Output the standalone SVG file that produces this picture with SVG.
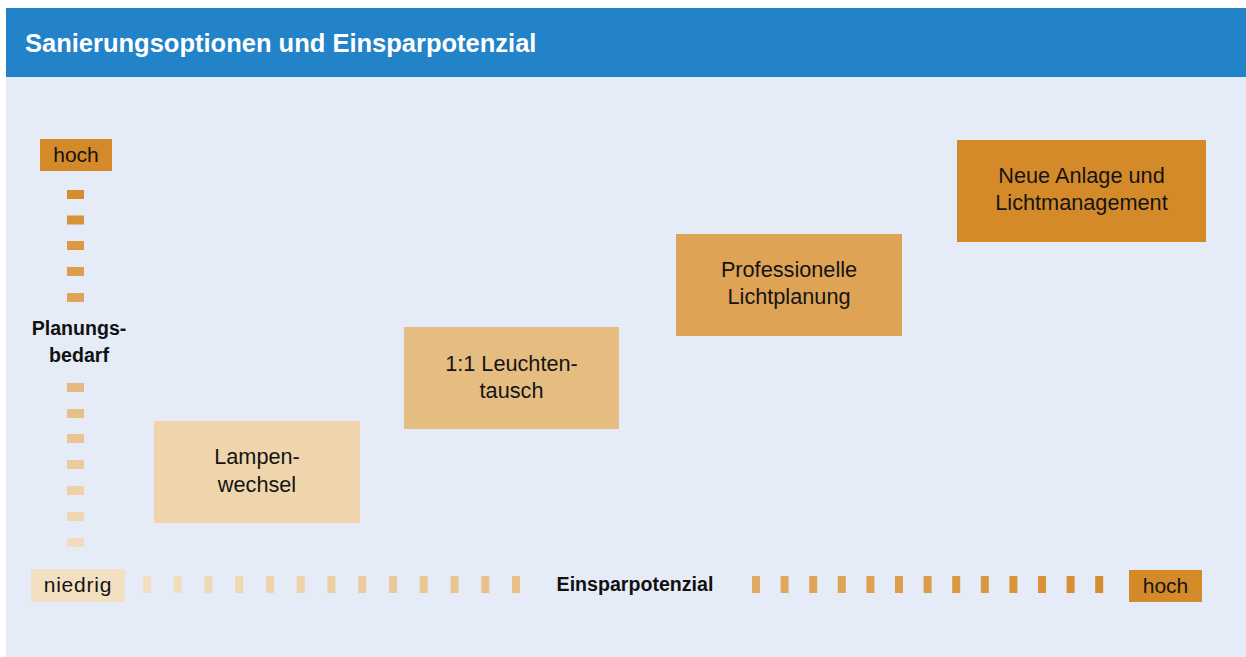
<svg xmlns="http://www.w3.org/2000/svg" width="1246" height="657" viewBox="0 0 1246 657">
<style>
.title{font-family:"Liberation Sans",Arial,sans-serif;font-weight:bold;font-size:25.5px;fill:#ffffff}
.lbl{font-family:"Liberation Sans",Arial,sans-serif;font-size:21.7px;fill:#141414;text-anchor:middle}
.axis{font-family:"Liberation Sans",Arial,sans-serif;font-weight:bold;font-size:19.6px;fill:#111111;text-anchor:middle}
.end{font-family:"Liberation Sans",Arial,sans-serif;font-size:21px;fill:#141414;text-anchor:middle}
</style>
<rect x="0" y="0" width="1246" height="657" fill="#ffffff"/>
<rect x="6" y="8" width="1240" height="69" fill="#2383C9"/>
<rect x="6" y="77" width="1240" height="580" fill="#E5ECF7"/>
<text class="title" x="25" y="52">Sanierungsoptionen und Einsparpotenzial</text>

<g id="axis-y">
<rect x="40" y="139" width="72" height="32" fill="#D58A29"/>
<text class="end" x="76" y="162">hoch</text>
<rect x="67" y="190" width="17" height="9" fill="#D68C2D"/>
<rect x="67" y="215.5" width="17" height="9" fill="#D89238"/>
<rect x="67" y="241" width="17" height="9" fill="#DA9842"/>
<rect x="67" y="267" width="17" height="9" fill="#DC9E4D"/>
<rect x="67" y="293" width="17" height="9" fill="#DEA458"/>
<text class="axis" x="79" y="335">Planungs-</text>
<text class="axis" x="79" y="362">bedarf</text>
<rect x="67" y="383" width="17" height="9" fill="#E5B97D"/>
<rect x="67" y="409" width="17" height="9" fill="#E7BF88"/>
<rect x="67" y="434" width="17" height="9" fill="#E9C592"/>
<rect x="67" y="460" width="17" height="9" fill="#EBCB9D"/>
<rect x="67" y="486" width="17" height="9" fill="#EDD1A7"/>
<rect x="67" y="512" width="17" height="9" fill="#EFD7B2"/>
<rect x="67" y="538" width="17" height="9" fill="#F1DDBD"/>
</g>

<g id="axis-x">
<rect x="31" y="569" width="94" height="33" fill="#F3E0C2"/>
<text class="end" x="78" y="592" letter-spacing="0.8">niedrig</text>
<rect x="143" y="576" width="8" height="17" fill="#F2DEBF"/>
<rect x="173.75" y="576" width="8" height="17" fill="#F1DCBB"/>
<rect x="204.5" y="576" width="8" height="17" fill="#F0D9B6"/>
<rect x="235.25" y="576" width="8" height="17" fill="#EFD7B1"/>
<rect x="266" y="576" width="8" height="17" fill="#EED4AD"/>
<rect x="296.75" y="576" width="8" height="17" fill="#EDD1A8"/>
<rect x="327.5" y="576" width="8" height="17" fill="#ECCFA3"/>
<rect x="358.25" y="576" width="8" height="17" fill="#EBCC9F"/>
<rect x="389" y="576" width="8" height="17" fill="#EBC99A"/>
<rect x="419.75" y="576" width="8" height="17" fill="#EAC795"/>
<rect x="450.5" y="576" width="8" height="17" fill="#E9C491"/>
<rect x="481.25" y="576" width="8" height="17" fill="#E8C18C"/>
<rect x="512" y="576" width="8" height="17" fill="#E7BF87"/>
<text class="axis" x="635" y="591">Einsparpotenzial</text>
<rect x="752" y="576" width="8" height="17" fill="#E0AA63"/>
<rect x="780.6" y="576" width="8" height="17" fill="#DFA85E"/>
<rect x="809.2" y="576" width="8" height="17" fill="#DEA55A"/>
<rect x="837.8" y="576" width="8" height="17" fill="#DDA356"/>
<rect x="866.4" y="576" width="8" height="17" fill="#DDA151"/>
<rect x="895" y="576" width="8" height="17" fill="#DC9E4D"/>
<rect x="923.6" y="576" width="8" height="17" fill="#DB9C48"/>
<rect x="952.2" y="576" width="8" height="17" fill="#DA9944"/>
<rect x="980.8" y="576" width="8" height="17" fill="#D9973F"/>
<rect x="1009.4" y="576" width="8" height="17" fill="#D9943B"/>
<rect x="1038" y="576" width="8" height="17" fill="#D89237"/>
<rect x="1066.6" y="576" width="8" height="17" fill="#D78F33"/>
<rect x="1095.2" y="576" width="8" height="17" fill="#D68D2E"/>
<rect x="1129" y="570" width="73" height="32" fill="#D58A29"/>
<text class="end" x="1165.5" y="593">hoch</text>
</g>

<g id="connectors"></g>

<g id="node-lampenwechsel">
<rect x="154" y="421" width="206" height="102" fill="#F0D5AC"/>
<text class="lbl" x="257" y="464">Lampen-</text>
<text class="lbl" x="257" y="492">wechsel</text>
</g>
<g id="node-leuchtentausch">
<rect x="404" y="327" width="215" height="102" fill="#E6BD80"/>
<text class="lbl" x="511.5" y="371">1:1 Leuchten-</text>
<text class="lbl" x="511.5" y="398">tausch</text>
</g>
<g id="node-lichtplanung">
<rect x="676" y="234" width="226" height="102" fill="#DEA354"/>
<text class="lbl" x="789" y="277">Professionelle</text>
<text class="lbl" x="789" y="304">Lichtplanung</text>
</g>
<g id="node-neue-anlage">
<rect x="957" y="140" width="249" height="102" fill="#D58A29"/>
<text class="lbl" x="1081.5" y="183">Neue Anlage und</text>
<text class="lbl" x="1081.5" y="210">Lichtmanagement</text>
</g>
</svg>
